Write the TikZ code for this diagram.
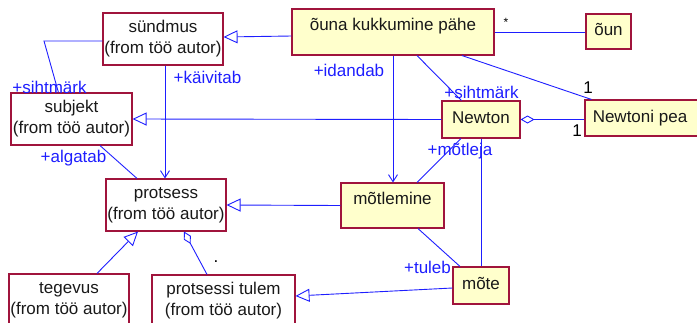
\documentclass[tikz,border=0pt]{standalone}
\usepackage{fontspec}
\setmainfont{Liberation Sans}
\usetikzlibrary{arrows.meta,calc}
\definecolor{umlred}{RGB}{160,20,60}
\definecolor{umlfill}{RGB}{255,255,204}
\definecolor{umlblue}{RGB}{30,30,255}
\tikzset{
  box/.style={draw=umlred, line width=1.1pt, inner sep=0pt, text=black!90,
    font=\fontsize{17}{21}\selectfont},
  pkgbox/.style={box, fill=white, align=center},
  active/.style={box, fill=umlfill, text height=12pt, text depth=4pt},
  conn/.style={draw=umlblue, line width=0.9pt},
  gen/.style={conn, -{Triangle[open, length=14pt, width=13pt]}},
  nav/.style={conn, -{Straight Barb[length=7pt, width=9pt]}},
  agg/.style={conn, {Diamond[open, length=14pt, width=8pt]}-},
  role/.style={text=umlblue, font=\fontsize{17}{21}\selectfont, inner sep=0pt},
  mult/.style={text=black, font=\fontsize{17}{21}\selectfont, inner sep=0pt},
}
\begin{document}
\begin{tikzpicture}[x=1pt, y=-1pt]
\useasboundingbox (0,0) rectangle (697,322);
\clip (0,0) rectangle (697,322);

% classes
\node[pkgbox, minimum width=120pt, minimum height=52pt] (sundmus) at (163,39) {sündmus\\(from töö autor)};
\node[pkgbox, minimum width=121pt, minimum height=52pt] (subjekt) at (71.5,119) {subjekt\\(from töö autor)};
\node[pkgbox, minimum width=120pt, minimum height=52pt] (protsess) at (166,205) {protsess\\(from töö autor)};
\node[pkgbox, minimum width=120pt, minimum height=52pt] (tegevus) at (69,300) {tegevus\\(from töö autor)};
\node[pkgbox, minimum width=143pt, minimum height=52pt] (tulem) at (223.5,301) {protsessi tulem\\(from töö autor)};

\node[active, minimum width=202pt, minimum height=46pt, text depth=15pt] (ouna) at (393,32) {õuna kukkumine pähe};
\node[active, minimum width=45pt, minimum height=35pt] (oun) at (608.5,31.5) {õun};
\node[active, minimum width=78pt, minimum height=37pt] (newton) at (481,119.5) {Newton};
\node[active, minimum width=120pt, minimum height=36pt] (pea) at (645,118) {\hspace*{-10pt}Newtoni pea};
\node[active, minimum width=103pt, minimum height=45pt, text depth=15pt] (motlemine) at (392.5,205.5) {mõtlemine};
\node[active, minimum width=56pt, minimum height=37pt] (mote) at (481,285.5) {mõte};

% generalizations
\draw[gen] ($(ouna.west)+(0,4)$) -- ($(sundmus.east)+(0,-2)$);
\draw[gen] (newton.west) -- (subjekt.east);
\draw[gen] (motlemine.west) -- (protsess.east);
\draw[gen] ($(tegevus.north)+(28,0)$) -- ($(protsess.south)+(-28,0)$);
\draw[gen] ($(mote.west)+(0,2.5)$) -- ($(tulem.east)+(0,-5)$);

% aggregations
\draw[agg] (newton.east) -- (newton.east -| pea.west);
\draw[agg] ($(protsess.south)+(18,0)$) -- ($(tulem.north)+(-16.5,0)$);

% navigable associations
\draw[nav] (ouna.south) -- (ouna.south |- motlemine.north);
\draw[nav] ($(sundmus.south)+(2,0)$) -- ($(sundmus.south |- protsess.north)+(2,0)$);

% plain associations
\coordinate (bend) at (44,41);
\draw[conn] ($(sundmus.west)+(0,2)$) -- (bend) -- ($(subjekt.north west)+(48,0)$);
\draw[conn] (ouna.east) -- (ouna.east -| oun.west);
\draw[conn] ($(ouna.south)+(24,0)$) -- ($(newton.north west)+(20,0)$);
\draw[conn] ($(ouna.south)+(69,0)$) -- ($(pea.north west)+(7,0)$);
\draw[conn] ($(subjekt.south)+(28.5,0)$) -- ($(protsess.north)+(-29,0)$);
\draw[conn] ($(newton.south)+(-20,0)$) -- ($(motlemine.north)+(24.5,0)$);
\draw[conn] (newton.south) -- (mote.north);
\draw[conn] ($(motlemine.south)+(25.5,0)$) -- ($(mote.north)+(-21,0)$);

% role names
\node[role] (r1) at (349,70) {+idandab};
\node[role] (r2) at (207.5,77) {+käivitab};
\node[role] (r3) at (49.5,87) {+sihtmärk};
\node[role] (r4) at (481.5,92) {+sihtmärk};
\node[role] (r5) at (73.5,158) {+algatab};
\node[role] (r6) at (460,151) {+mõtleja};
\node[role] (r7) at (427.5,267) {+tuleb};

% multiplicities
\node[mult, font=\fontsize{12}{14}\selectfont] (m1) at (506,22) {*};
\node[mult] (m2) at (588,88) {1};
\node[mult] (m3) at (577,131) {1};
\node[mult] (m4) at (216,262) {.};
\end{tikzpicture}
\end{document}
